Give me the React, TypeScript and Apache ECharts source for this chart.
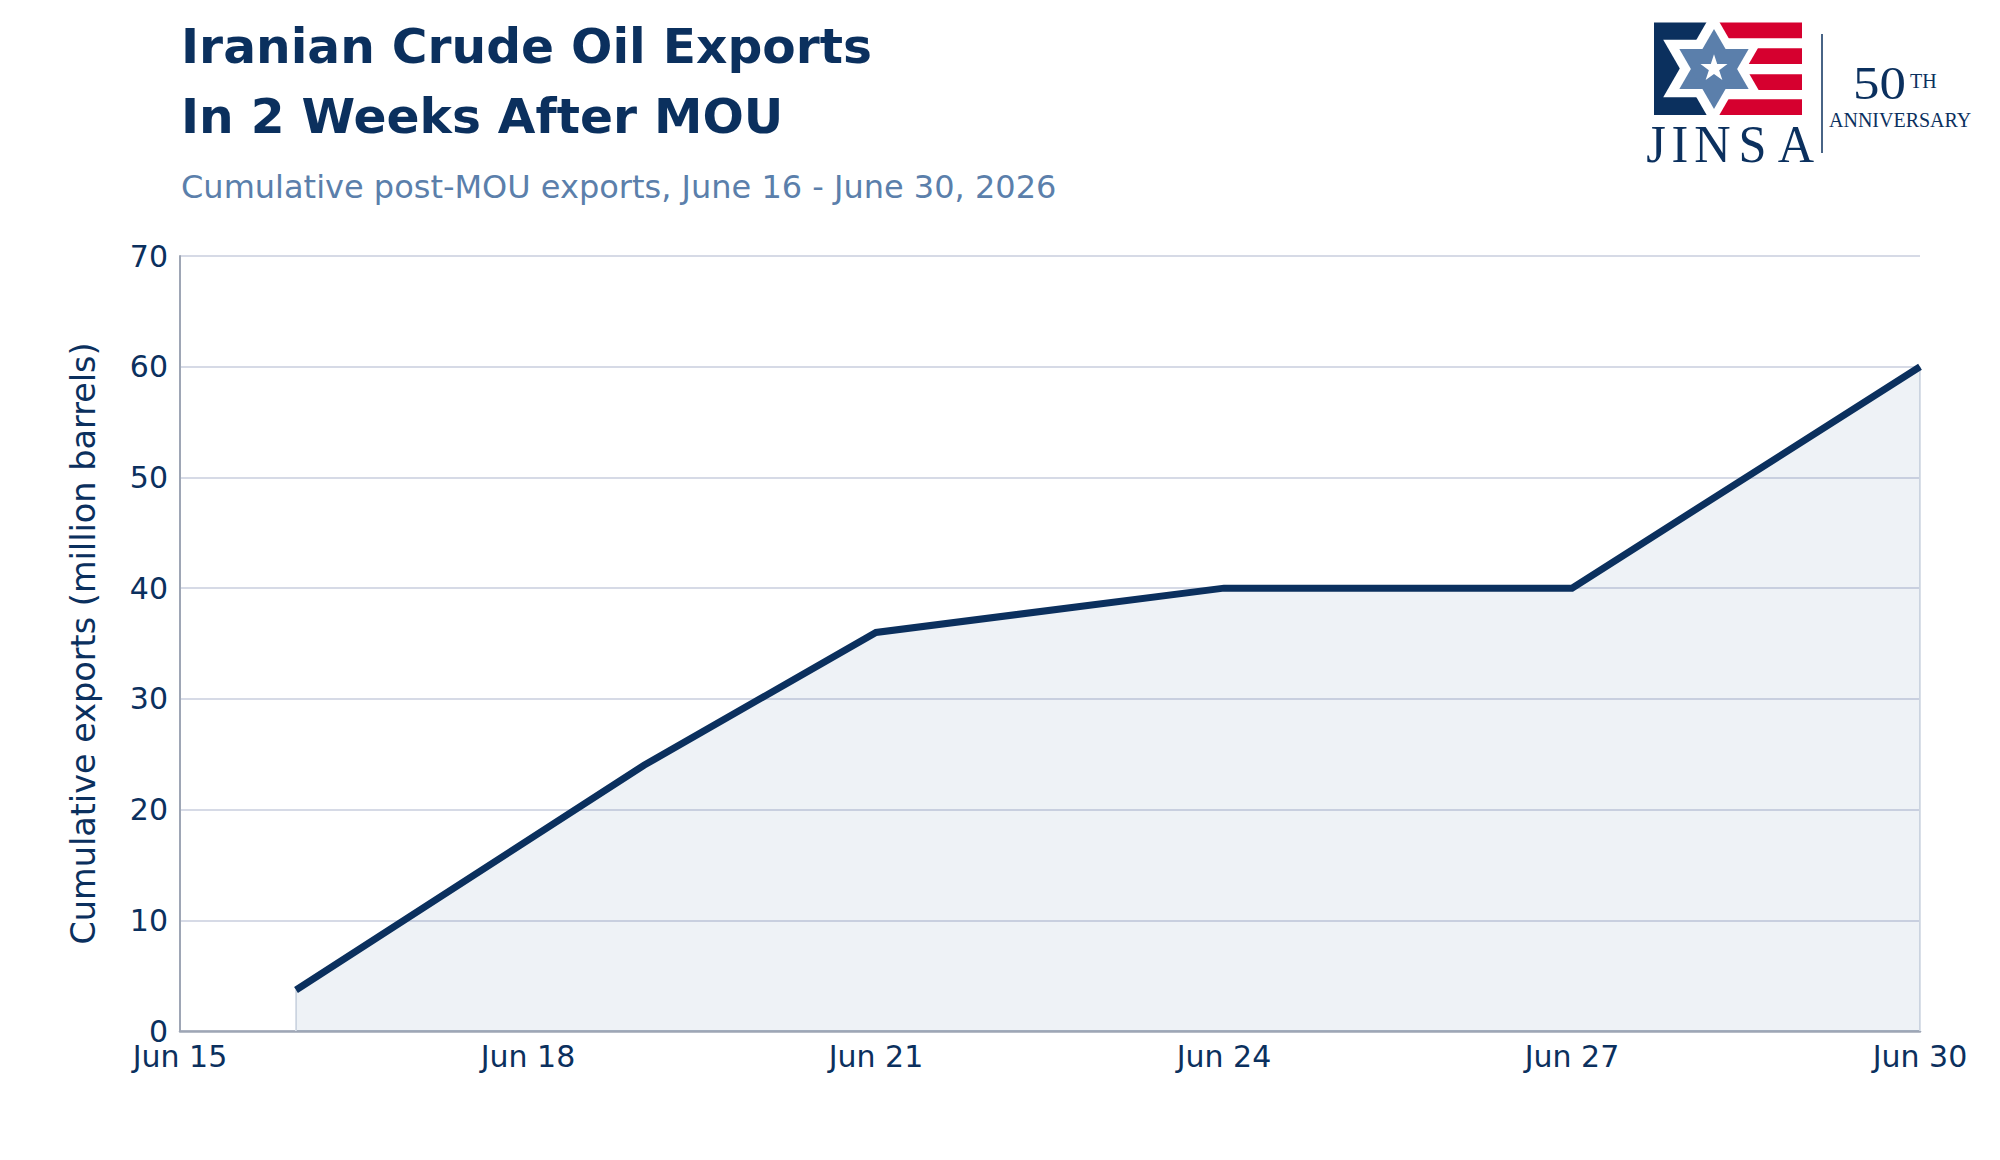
import { useEffect, useRef } from 'react';
import * as echarts from 'echarts';

// Day of June 2026 and cumulative exports (million barrels)
const days = [16, 19, 21, 24, 27, 30];
const cumulativeExports = [3.7, 24, 36, 40, 40, 60];

const xTicks = [15, 18, 21, 24, 27, 30];
const yTicks = [0, 10, 20, 30, 40, 50, 60, 70];

const titleLines = ['Iranian Crude Oil Exports', 'In 2 Weeks After MOU'];
const subtitle = 'Cumulative post-MOU exports, June 16 - June 30, 2026';
const yAxisName = 'Cumulative exports (million barrels)';

const NAVY = '#0b305e';
const RED = '#d6002f';
const STEEL = '#5b7fab';
const FONT = "'DejaVu Sans', sans-serif";
const SERIF = "'Liberation Serif', 'DejaVu Serif', serif";

// star of David as two triangles
function triangle(cx: number, cy: number, r: number, up: boolean) {
  const s = up ? -1 : 1;
  return [
    [cx, cy + s * r],
    [cx - r * Math.sin(Math.PI / 3), cy - (s * r) / 2],
    [cx + r * Math.sin(Math.PI / 3), cy - (s * r) / 2],
  ];
}

function fivePointStar(cx: number, cy: number, r: number) {
  const pts: number[][] = [];
  for (let i = 0; i < 10; i++) {
    const rr = i % 2 === 0 ? r : r * 0.382;
    const a = -Math.PI / 2 + (i * Math.PI) / 5;
    pts.push([cx + rr * Math.cos(a), cy + rr * Math.sin(a)]);
  }
  return pts;
}

function buildLogo(): any[] {
  const els: any[] = [];
  // flag
  els.push({ type: 'rect', shape: { x: 1654, y: 22.5, width: 62, height: 92.5 }, style: { fill: NAVY } });
  const stripeTops = [22.5, 48.3, 74.3, 99.3];
  stripeTops.forEach((t) => {
    els.push({ type: 'rect', shape: { x: 1714, y: t, width: 88, height: 15.7 }, style: { fill: RED } });
  });
  // white outline star
  els.push({ type: 'polygon', shape: { points: triangle(1713, 68.5, 57.5, true) }, style: { fill: '#ffffff' } });
  els.push({ type: 'polygon', shape: { points: triangle(1713, 68.5, 57.5, false) }, style: { fill: '#ffffff' } });
  // blue star
  els.push({ type: 'polygon', shape: { points: triangle(1714, 69, 40, true) }, style: { fill: STEEL } });
  els.push({ type: 'polygon', shape: { points: triangle(1714, 69, 40, false) }, style: { fill: STEEL } });
  els.push({ type: 'polygon', shape: { points: fivePointStar(1714, 68.5, 14.2) }, style: { fill: '#ffffff' } });
  // JINSA letters
  const letters = [
    ['J', 1656],
    ['I', 1680],
    ['N', 1712.5],
    ['S', 1752.5],
    ['A', 1796],
  ];
  letters.forEach(([ch, x]) => {
    els.push({
      type: 'text',
      x: x as number,
      y: 171,
      scaleX: 0.95,
      style: {
        text: ch as string,
        fill: NAVY,
        font: `53px ${SERIF}`,
        align: 'center',
        verticalAlign: 'bottom',
      },
    });
  });
  els.push({ type: 'line', shape: { x1: 1822, y1: 34, x2: 1822, y2: 153 }, style: { stroke: NAVY, lineWidth: 1.5 } });
  els.push({
    type: 'text',
    x: 1853,
    y: 107,
    scaleX: 1.15,
    style: { text: '50', fill: NAVY, font: `46px ${SERIF}`, align: 'left', verticalAlign: 'bottom' },
  });
  els.push({
    type: 'text',
    x: 1910,
    y: 91,
    style: { text: 'TH', fill: NAVY, font: `20px ${SERIF}`, align: 'left', verticalAlign: 'bottom' },
  });
  els.push({
    type: 'text',
    x: 1829,
    y: 130,
    style: { text: 'ANNIVERSARY', fill: NAVY, font: `20px ${SERIF}`, align: 'left', verticalAlign: 'bottom' },
  });
  return els;
}

export default function App() {
  const chartRef = useRef<HTMLDivElement>(null);

  useEffect(() => {
    if (!chartRef.current) return;
    document.body.style.margin = '0';

    const chart = echarts.init(chartRef.current, null, { renderer: 'svg' });

    const seriesData = days.map((d, i) => [d, cumulativeExports[i]]);
    const first = seriesData[0];
    const last = seriesData[seriesData.length - 1];

    const option: echarts.EChartsOption = {
      animation: false,
      backgroundColor: '#ffffff',
      grid: {
        left: 180,
        right: 80,
        top: 256,
        bottom: 129,
        containLabel: false,
      },
      xAxis: {
        type: 'value',
        min: xTicks[0],
        max: xTicks[xTicks.length - 1],
        interval: 3,
        axisLine: { show: true, lineStyle: { color: '#9ea6b5', width: 2.5 } },
        axisTick: { show: false },
        splitLine: { show: false },
        axisLabel: {
          color: NAVY,
          fontFamily: FONT,
          fontSize: 30,
          margin: 10,
          formatter: (v: number) => `Jun ${v}`,
        },
      },
      yAxis: {
        type: 'value',
        min: yTicks[0],
        max: yTicks[yTicks.length - 1],
        interval: 10,
        name: yAxisName,
        nameLocation: 'middle',
        nameRotate: 90,
        nameGap: 80,
        nameTextStyle: { color: NAVY, fontFamily: FONT, fontSize: 33.5 },
        axisLine: { show: true, lineStyle: { color: '#9ea6b5', width: 2 } },
        axisTick: { show: false },
        axisLabel: { color: NAVY, fontFamily: FONT, fontSize: 30, margin: 12 },
        splitLine: { show: true, lineStyle: { color: '#d6dae6', width: 2 } },
      },
      series: [
        {
          type: 'line',
          data: seriesData,
          symbol: 'none',
          z: 3,
          lineStyle: { color: NAVY, width: 7, cap: 'butt', join: 'miter' },
          areaStyle: { color: 'rgba(40, 90, 140, 0.11)', origin: 'start' },
          markLine: {
            silent: true,
            symbol: 'none',
            label: { show: false },
            lineStyle: { color: '#d9dfe8', width: 2, type: 'solid' },
            data: [
              [{ coord: [first[0], 0] }, { coord: [first[0], first[1]] }],
              [{ coord: [last[0], 0] }, { coord: [last[0], last[1]] }],
            ],
            z: 1,
          },
        },
      ],
      graphic: [
        {
          type: 'text',
          x: 181,
          y: 70,
          style: { text: titleLines[0], fill: NAVY, font: `bold 48.7px ${FONT}`, align: 'left', verticalAlign: 'bottom' },
        },
        {
          type: 'text',
          x: 181,
          y: 140,
          style: { text: titleLines[1], fill: NAVY, font: `bold 48.7px ${FONT}`, align: 'left', verticalAlign: 'bottom' },
        },
        {
          type: 'text',
          x: 181,
          y: 203,
          style: { text: subtitle, fill: STEEL, font: `32px ${FONT}`, align: 'left', verticalAlign: 'bottom' },
        },
        ...buildLogo(),
      ],
    };

    chart.setOption(option);

    return () => {
      chart.dispose();
    };
  }, []);

  return <div ref={chartRef} style={{ width: 2000, height: 1160 }} />;
}
